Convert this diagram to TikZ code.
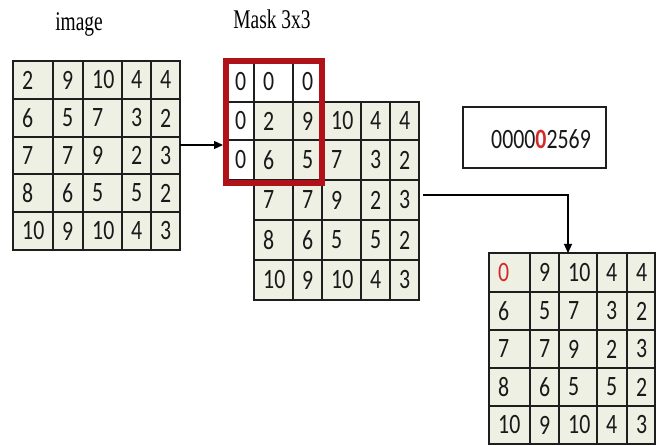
\documentclass[tikz,border=0pt]{standalone}
\usepackage{fontspec}
\usetikzlibrary{arrows.meta}
\newfontfamily\numfont[FakeStretch=0.78]{Carlito}
\newfontfamily\labelfont[FakeStretch=0.72]{Liberation Serif}
\definecolor{cellfill}{RGB}{237,240,227}
\definecolor{gridline}{RGB}{30,30,30}
\definecolor{maskred}{RGB}{175,18,24}
\definecolor{zerored}{RGB}{215,40,40}

\tikzset{
  cellbox/.style={draw=gridline, fill=cellfill, line width=1.2pt, inner sep=0pt, outer sep=0pt},
  padbox/.style={cellbox, fill=white},
  num/.style={font=\numfont\fontsize{28}{28}\selectfont, text=black!90, inner sep=0pt, anchor=west},
  caption/.style={font=\labelfont\fontsize{27}{27}\selectfont, inner sep=0pt, anchor=base},
  link/.style={draw=black, line width=1.2pt, -{Triangle[length=9pt,width=8pt]}},
}

% #1 cell style, #2 name prefix, #3 column edges, #4 row edges, #5 entries row by row
\newcommand\matgrid[5]{%
  \foreach \rowvals [count=\ri] in {#5} {
    \foreach \val [count=\ci] in \rowvals {
      \pgfmathsetmacro\xa{{#3}[\ci-1]}
      \pgfmathsetmacro\xb{{#3}[\ci]}
      \pgfmathsetmacro\ya{{#4}[\ri-1]}
      \pgfmathsetmacro\yb{{#4}[\ri]}
      \node[#1, minimum width={\xb-\xa}, minimum height={\yb-\ya}]
        (#2-\ri-\ci) at ({(\xa+\xb)/2},{(\ya+\yb)/2}) {};
      \node[num] (#2-\ri-\ci-v) at ({\xa+9},{(\ya+\yb)/2}) {\val};
    }
  }
}

\begin{document}
\begin{tikzpicture}[x=1pt,y=-1pt]
\useasboundingbox (0,0) rectangle (661,446);

% captions
\node[caption] (imglabel) at (79,31) {image};
\node[caption] (masklabel) at (272,29) {Mask 3x3};

% input image
\matgrid{cellbox}{L}{13,53,83,122,151,180}{61,99,137,174,212,250}
  {{2,9,10,4,4},{6,5,7,3,2},{7,7,9,2,3},{8,6,5,5,2},{10,9,10,4,3}}

% image with zero padding and the 3x3 mask
\matgrid{cellbox}{M}{254,293,322,361,390,419}{102,140,180,220,260,300}
  {{2,9,10,4,4},{6,5,7,3,2},{7,7,9,2,3},{8,6,5,5,2},{10,9,10,4,3}}
\matgrid{padbox}{P}{226,254,293,322}{61,102}{{0,0,0}}
\matgrid{padbox}{Q}{226,254}{102,140,180}{{0},{0}}
\node[draw=maskred, line width=6pt, minimum width=96, minimum height=122, inner sep=0pt]
  (mask) at (274,122) {};

% sorted neighbourhood
\node[draw=gridline, line width=1.2pt, minimum width=143, minimum height=61, inner sep=0pt]
  (seqbox) at (534.5,137.5) {};
\node[num, anchor=center] (seq) at (541,139) {0000\textcolor{zerored}{\bfseries 0}2569};

% filtered result
\matgrid{cellbox}{R}{489,530,559,597,627,655}{253,292,330,368,406,444}
  {{\textcolor{zerored}{0},9,10,4,4},{6,5,7,3,2},{7,7,9,2,3},{8,6,5,5,2},{10,9,10,4,3}}

% connectors
\coordinate (inlet) at (0,145);
\coordinate (bend) at (568,195);
\draw[link] (L-3-5.east |- inlet) -- (mask.west |- inlet);
\draw[link, shorten <=4pt] (M-3-5.east |- bend) -- (bend) -- (R-1-3.north -| bend);
\end{tikzpicture}
\end{document}
